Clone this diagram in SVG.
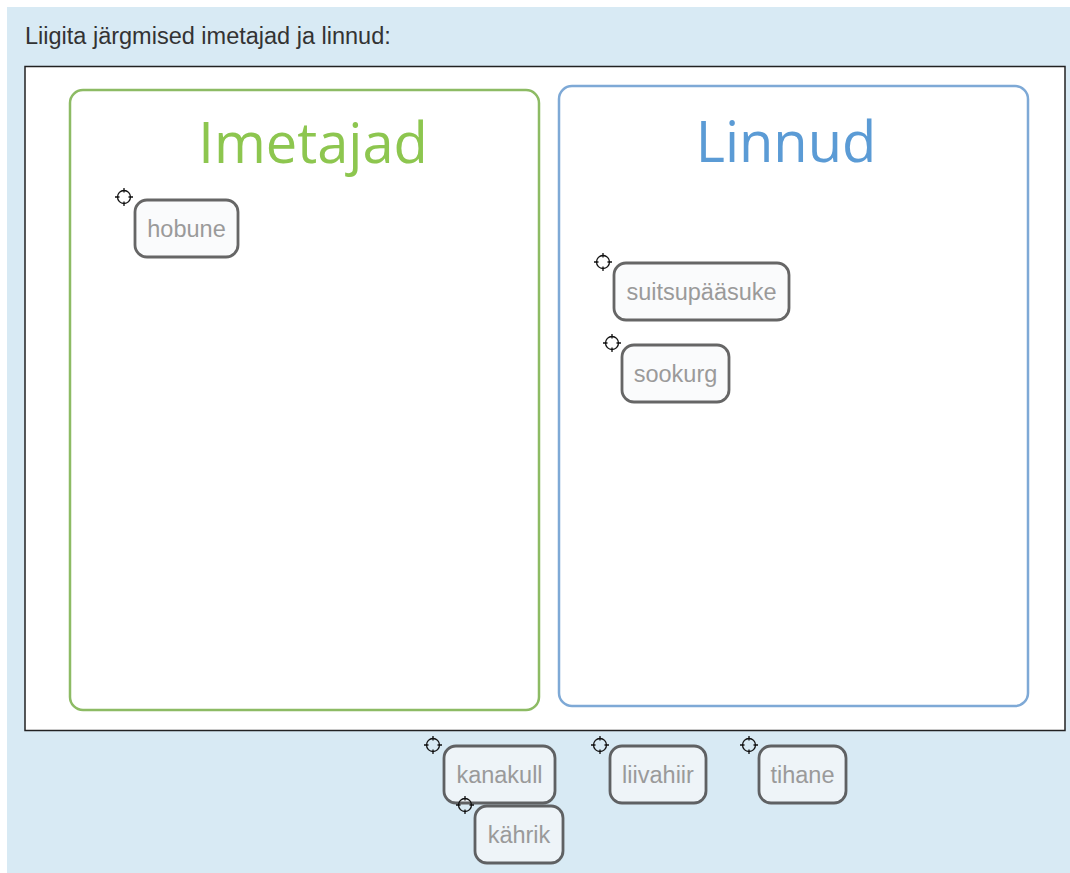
<svg xmlns="http://www.w3.org/2000/svg" width="1070" height="873" viewBox="0 0 1070 873">
<defs>
<style>
.tile{fill:#fafbfc;stroke:#666;stroke-width:2.8}
.tileb{fill:#eef4f8;stroke:#5f6163;stroke-width:2.8}
.lbl{font-family:"Liberation Sans",Arial,sans-serif;font-size:23.5px;fill:#9a9a9a;text-anchor:middle}
.ttl{font-family:"Open Sans","Noto Sans",sans-serif;font-size:56px;text-anchor:middle}
</style>
<symbol id="ch" viewBox="-10 -10 20 20" overflow="visible">
<circle cx="0" cy="0" r="6.5" fill="none" stroke="#111" stroke-width="1.3"/>
<path d="M0,-9V-4.5M0,4.5V9M-9,0H-4.5M4.5,0H9" stroke="#111" stroke-width="1.3"/>
</symbol>
</defs>
<rect x="0" y="0" width="1070" height="873" fill="#ffffff"/>
<rect x="7" y="7" width="1063" height="866" fill="#d8eaf4"/>
<text x="25" y="44" font-family="Liberation Sans,Arial,sans-serif" font-size="23.5" fill="#333">Liigita järgmised imetajad ja linnud:</text>
<rect x="25" y="66.5" width="1040" height="664" fill="#ffffff" stroke="#222" stroke-width="1.5"/>
<g id="imetajad">
<rect x="70" y="90" width="469" height="620" rx="13" fill="none" stroke="#8dbb64" stroke-width="2.5"/>
<text class="ttl" x="313" y="163" fill="#8dc64f">Imetajad</text>
</g>
<g id="linnud">
<rect x="559" y="86" width="469" height="620" rx="13" fill="none" stroke="#7ea9d6" stroke-width="2.5"/>
<text class="ttl" x="786" y="162" fill="#5b9bd5">Linnud</text>
</g>
<g id="hobune">
<rect class="tile" x="135" y="200" width="103" height="57" rx="12"/>
<text class="lbl" x="186.5" y="237">hobune</text>
<use href="#ch" x="114" y="187" width="20" height="20"/>
</g>
<g id="suitsupaasuke">
<rect class="tile" x="614" y="263" width="175" height="57" rx="12"/>
<text class="lbl" x="701.5" y="300">suitsupääsuke</text>
<use href="#ch" x="593" y="252" width="20" height="20"/>
</g>
<g id="sookurg">
<rect class="tile" x="622" y="345" width="107" height="57" rx="12"/>
<text class="lbl" x="675.5" y="382">sookurg</text>
<use href="#ch" x="602" y="333" width="20" height="20"/>
</g>
<g id="kanakull">
<rect class="tileb" x="444" y="746" width="111" height="57" rx="12"/>
<text class="lbl" x="499.5" y="783">kanakull</text>
<use href="#ch" x="423" y="735" width="20" height="20"/>
</g>
<g id="kahrik">
<rect class="tileb" x="475" y="806" width="88" height="57" rx="12"/>
<text class="lbl" x="519" y="843">kährik</text>
<use href="#ch" x="455" y="795" width="20" height="20"/>
</g>
<g id="liivahiir">
<rect class="tileb" x="610" y="746" width="96" height="57" rx="12"/>
<text class="lbl" x="658" y="783">liivahiir</text>
<use href="#ch" x="590" y="735" width="20" height="20"/>
</g>
<g id="tihane">
<rect class="tileb" x="759" y="746" width="87" height="57" rx="12"/>
<text class="lbl" x="802.5" y="783">tihane</text>
<use href="#ch" x="739" y="735" width="20" height="20"/>
</g>
<g id="connectors"/>
</svg>
